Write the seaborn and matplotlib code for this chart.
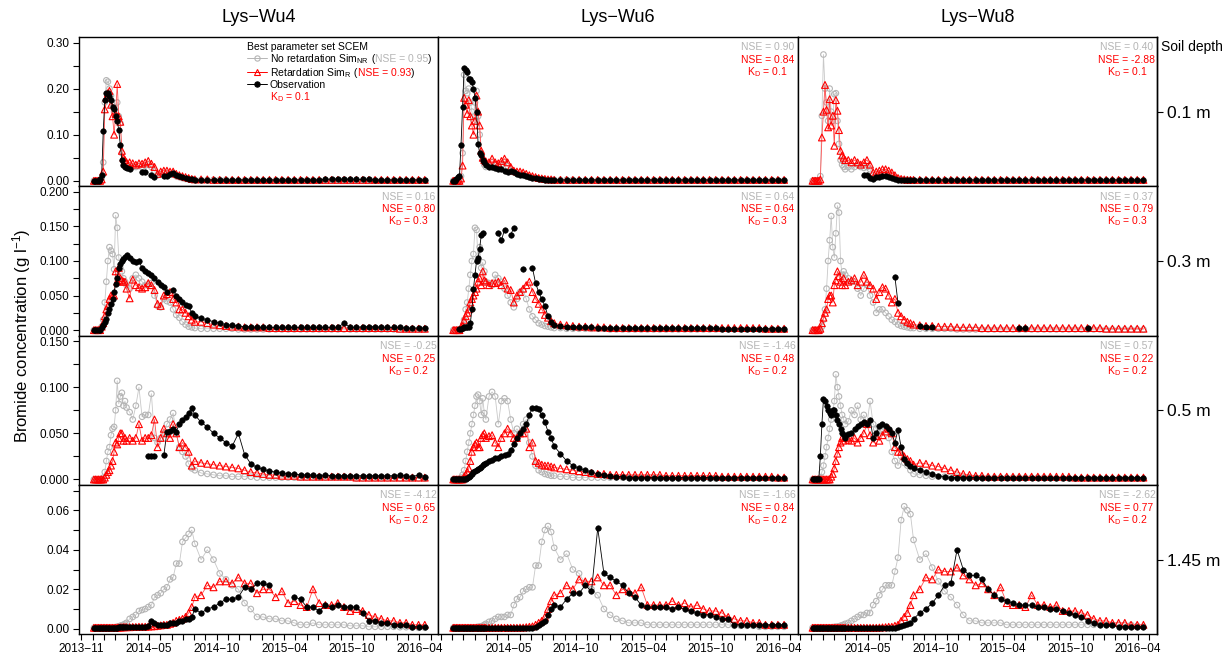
import numpy as np
import pandas as pd
import matplotlib
matplotlib.use("Agg")
import matplotlib.pyplot as plt
import matplotlib.dates as mdates
from matplotlib.ticker import MultipleLocator, FormatStrFormatter
from matplotlib.lines import Line2D
from matplotlib.offsetbox import TextArea, DrawingArea, HPacker, VPacker, AnchoredOffsetbox
import seaborn as sns

sns.set_theme(style="ticks")
plt.rcParams["font.family"] = ["Liberation Sans", "DejaVu Sans"]
plt.rcParams["mathtext.fontset"] = "custom"
plt.rcParams["mathtext.rm"] = "Liberation Sans"
plt.rcParams["mathtext.it"] = "Liberation Sans:italic"
plt.rcParams["mathtext.bf"] = "Liberation Sans:bold"
plt.rcParams["axes.edgecolor"] = "black"
plt.rcParams["axes.linewidth"] = 1.0
plt.rcParams["xtick.color"] = "black"
plt.rcParams["ytick.color"] = "black"
plt.rcParams["text.color"] = "black"

nan = np.nan

# sampling days, counted from 2013-11-01
sample_day = [
    46, 50, 54, 58, 62, 66, 70, 74, 78, 82, 86, 90, 94, 98, 102, 106, 110, 114, 118, 122, 126, 130,
    138, 146, 154, 162, 170, 178, 186, 194, 202, 210, 218, 226, 234, 242, 250, 258, 266, 274, 282, 290, 298, 306,
    322, 338, 354, 370, 386, 402, 418, 434, 450, 466, 482, 498, 514, 530, 546, 562, 578, 594, 610, 626, 642,
    658, 674, 690, 706, 722, 738, 754, 770, 786, 802, 818, 834, 850, 866, 882, 898,
]

# ---------------- 0.1 m ----------------
wu4_010_nr = [
    0, 0, 0, 0, 0, 0.005, 0.04, 0.17, 0.218, 0.215, 0.2, 0.185, 0.16, 0.15, 0.14, 0.17, 0.14, 0.125, 0.06, 0.045, 0.035, 0.03,
    0.032, 0.03, 0.03, 0.032, 0.03, 0.033, 0.035, 0.03, 0.022, 0.012, 0.015, 0.017, 0.017, 0.015, 0.014, 0.01, 0.008, 0.006, 0.004, 0.003, 0.002, 0.002,
    0.002, 0.002, 0.002, 0.002, 0.002, 0.001, 0.001, 0.001, 0.001, 0.001,
    0.001, 0.001, 0.001, 0.001, 0.001, 0.001, 0.001, 0.001, 0.001, 0.001,
    0.001, 0.001, 0.001, 0.001, 0.001, 0.001, 0.001, 0.001, 0.001, 0.001,
    0.001, 0.001, 0.001, 0.001, 0.001, 0.001, 0.001,
]
wu4_010_r = [
    0, 0, 0, 0, 0, 0.003, 0.02, 0.155, 0.18, 0.19, 0.195, 0.165, 0.14, 0.10, 0.145, 0.21, 0.14, 0.128, 0.065, 0.05, 0.045, 0.04,
    0.04, 0.038, 0.035, 0.038, 0.037, 0.04, 0.043, 0.037, 0.03, 0.015, 0.02, 0.022, 0.022, 0.02, 0.02, 0.015, 0.012, 0.01, 0.008, 0.006, 0.004, 0.003,
    0.003, 0.003, 0.002, 0.002, 0.002, 0.002, 0.002, 0.002, 0.002, 0.002,
    0.002, 0.002, 0.002, 0.002, 0.002, 0.002, 0.002, 0.002, 0.002, 0.002,
    0.002, 0.002, 0.002, 0.002, 0.002, 0.002, 0.002, 0.002, 0.002, 0.002,
    0.002, 0.002, 0.002, 0.002, 0.002, 0.002, 0.002,
]
wu4_010_obs = [
    0, 0, 0, 0, 0.004, 0.012, 0.107, 0.175, 0.19, 0.19, 0.185, 0.175, 0.16, 0.155, 0.14, 0.13, 0.11, 0.078, 0.045, 0.035, 0.03, 0.028,
    0.025, nan, nan, nan, 0.02, 0.02, nan, 0.012, 0.008, nan, nan, 0.01, 0.01, 0.015, 0.017, 0.012, 0.01, 0.008, 0.006, 0.004, 0.003, 0.002,
    0.002, 0.002, 0.002, 0.002, 0.002, 0.002, 0.002, 0.002, 0.002, 0.002,
    0.002, 0.002, 0.002, 0.002, 0.002, 0.002, 0.002, 0.002, 0.002, 0.002,
    0.003, 0.004, 0.004, 0.003, 0.004, 0.003, 0.003, 0.003, 0.002, 0.002,
    0.002, 0.002, 0.002, 0.002, 0.002, 0.002, 0.002,
]
wu6_010_nr = [
    0, 0, 0, 0, 0, 0.01, 0.06, 0.23, 0.195, 0.19, 0.2, 0.17, 0.15, 0.13, 0.17, 0.195, 0.14, 0.1, 0.06, 0.045, 0.035, 0.03,
    0.032, 0.04, 0.035, 0.03, 0.035, 0.04, 0.032, 0.025, 0.018, 0.015, 0.015, 0.013, 0.01, 0.008, 0.006, 0.005, 0.004, 0.003, 0.002, 0.002, 0.002, 0.002,
    0.002, 0.002, 0.002, 0.001, 0.001, 0.001, 0.001, 0.001, 0.001, 0.001,
    0.001, 0.001, 0.001, 0.001, 0.001, 0.001, 0.001, 0.001, 0.001, 0.001,
    0.001, 0.001, 0.001, 0.001, 0.001, 0.001, 0.001, 0.001, 0.001, 0.001,
    0.001, 0.001, 0.001, 0.001, 0.001, 0.001, 0.001,
]
wu6_010_r = [
    0, 0, 0, 0, 0, 0.005, 0.033, 0.18, 0.165, 0.145, 0.175, 0.14, 0.12, 0.1, 0.13, 0.185, 0.15, 0.12, 0.065, 0.05, 0.045, 0.042,
    0.04, 0.048, 0.04, 0.038, 0.043, 0.048, 0.04, 0.03, 0.022, 0.02, 0.02, 0.018, 0.015, 0.012, 0.01, 0.008, 0.006, 0.005, 0.004, 0.003, 0.003, 0.002,
    0.002, 0.002, 0.002, 0.002, 0.002, 0.002, 0.002, 0.002, 0.002, 0.002,
    0.002, 0.002, 0.002, 0.002, 0.002, 0.002, 0.002, 0.002, 0.002, 0.002,
    0.002, 0.002, 0.002, 0.002, 0.002, 0.002, 0.002, 0.002, 0.002, 0.002,
    0.002, 0.002, 0.002, 0.002, 0.002, 0.002, 0.002,
]
wu6_010_obs = [
    0, 0, 0.003, 0.008, 0.01, 0.078, 0.16, 0.245, 0.24, 0.235, 0.22, 0.22, 0.215, 0.2, 0.18, 0.15, 0.08, 0.06, 0.055, 0.045, 0.04, 0.035,
    0.03, 0.03, 0.028, 0.025, 0.025, 0.022, 0.02, 0.022, 0.02, 0.015, 0.013, 0.012, 0.01, 0.008, 0.006, 0.005, 0.004, 0.003, 0.002, 0.002, 0.002, 0.002,
    0.002, 0.002, 0.002, 0.002, 0.002, 0.002, 0.002, 0.002, 0.002, 0.002,
    0.002, 0.002, 0.002, 0.002, 0.002, 0.002, 0.002, 0.002, 0.002, 0.002,
    0.002, 0.002, 0.002, 0.002, 0.002, 0.002, 0.002, 0.002, 0.002, 0.002,
    0.002, 0.002, 0.002, 0.002, 0.002, 0.002, 0.002,
]
wu8_010_nr = [
    0, 0, 0, 0, 0, 0.01, 0.141, 0.274, 0.2, 0.17, 0.13, 0.2, 0.15, 0.13, 0.188, 0.19, 0.13, 0.08, 0.045, 0.035, 0.03, 0.025,
    0.03, 0.025, 0.03, 0.035, 0.03, 0.028, 0.03, 0.025, 0.012, 0.015, 0.016, 0.018, 0.018, 0.015, 0.012, 0.008, 0.005, 0.003, 0.002, 0.002, 0.001, 0.001,
    0.001, 0.001, 0.001, 0.001, 0.001, 0.001, 0.001, 0.001, 0.001, 0.001,
    0.001, 0.001, 0.001, 0.001, 0.001, 0.001, 0.001, 0.001, 0.001, 0.001,
    0.001, 0.001, 0.001, 0.001, 0.001, 0.001, 0.001, 0.001, 0.001, 0.001,
    0.001, 0.001, 0.001, 0.001, 0.001, 0.001, 0.001,
]
wu8_010_r = [
    0, 0, 0, 0, 0, 0.003, 0.094, 0.15, 0.208, 0.154, 0.116, 0.177, 0.12, 0.141, 0.076, 0.175, 0.152, 0.11, 0.065, 0.055, 0.05, 0.045,
    0.045, 0.04, 0.045, 0.04, 0.035, 0.04, 0.045, 0.035, 0.018, 0.02, 0.022, 0.025, 0.025, 0.022, 0.018, 0.012, 0.006, 0.004, 0.003, 0.002, 0.002, 0.002,
    0.002, 0.002, 0.002, 0.002, 0.002, 0.002, 0.002, 0.002, 0.002, 0.002,
    0.002, 0.002, 0.002, 0.002, 0.002, 0.002, 0.002, 0.002, 0.002, 0.002,
    0.002, 0.002, 0.002, 0.002, 0.002, 0.002, 0.002, 0.002, 0.002, 0.002,
    0.002, 0.002, 0.002, 0.002, 0.002, 0.002, 0.002,
]
wu8_010_obs = [
    nan, nan, nan, nan, nan, nan, nan, nan, nan, nan, nan, nan, nan, nan, nan, nan, nan, nan, nan, nan, nan, nan,
    nan, nan, nan, nan, nan, 0.012, 0.012, 0.005, 0.004, 0.008, 0.009, 0.01, 0.01, 0.008, 0.005, 0.003, 0.002, 0.002, 0.002, 0.002, 0.002, 0.002,
    0.002, 0.002, 0.002, 0.002, 0.002, 0.002, 0.002, 0.002, 0.002, 0.002,
    0.002, 0.002, 0.002, 0.002, 0.002, 0.002, 0.002, 0.002, 0.002, 0.002,
    0.002, 0.002, 0.002, 0.002, 0.002, 0.002, 0.002, 0.002, 0.002, 0.002,
    0.002, 0.002, 0.002, 0.002, 0.002, 0.002, 0.002,
]

# ---------------- 0.3 m ----------------
wu4_030_nr = [
    0, 0, 0, 0, 0, 0.005, 0.015, 0.04, 0.07, 0.1, 0.12, 0.115, 0.11, 0.088, 0.166, 0.148, 0.105, 0.09, 0.085, 0.075, 0.07, 0.065,
    0.06, 0.075, 0.08, 0.075, 0.07, 0.065, 0.066, 0.068, 0.05, 0.035, 0.033, 0.045, 0.042, 0.04, 0.03, 0.022, 0.018, 0.012, 0.008, 0.005, 0.004, 0.003,
    0.002, 0.002, 0.002, 0.002, 0.002, 0.002, 0.001, 0.001, 0.001, 0.001,
    0.001, 0.001, 0.001, 0.001, 0.001, 0.001, 0.001, 0.001, 0.001, 0.001,
    0.001, 0.001, 0.001, 0.001, 0.001, 0.001, 0.001, 0.001, 0.001, 0.001,
    0.001, 0.001, 0.001, 0.001, 0.001, 0.001, 0.001,
]
wu4_030_r = [
    0, 0, 0, 0, 0, 0.005, 0.01, 0.02, 0.03, 0.035, 0.045, 0.05, 0.05, 0.05, 0.085, 0.07, 0.09, 0.075, 0.072, 0.07, 0.07, 0.06,
    0.046, 0.073, 0.065, 0.062, 0.06, 0.062, 0.068, 0.065, 0.058, 0.038, 0.035, 0.05, 0.052, 0.055, 0.045, 0.04, 0.03, 0.03, 0.025, 0.02, 0.015, 0.012,
    0.012, 0.01, 0.008, 0.007, 0.006, 0.005, 0.005, 0.004, 0.004, 0.004,
    0.004, 0.003, 0.003, 0.003, 0.003, 0.003, 0.003, 0.003, 0.003, 0.003,
    0.003, 0.003, 0.003, 0.003, 0.003, 0.003, 0.003, 0.003, 0.003, 0.003,
    0.003, 0.003, 0.002, 0.002, 0.002, 0.002, 0.002,
]
wu4_030_obs = [
    0, 0, 0, 0, 0, 0.004, 0.007, 0.012, 0.016, 0.025, 0.03, 0.038, 0.045, 0.055, 0.066, 0.075, 0.09, 0.095, 0.1, 0.103, 0.106, 0.108,
    0.105, 0.1, 0.098, 0.1, 0.09, 0.085, 0.083, 0.08, 0.075, 0.07, 0.065, 0.062, 0.055, nan, 0.058, 0.05, 0.045, 0.04, 0.037, 0.035, 0.025, 0.02,
    0.017, 0.015, 0.012, 0.01, 0.008, 0.007, 0.006, 0.005, 0.005, 0.004,
    0.004, 0.004, 0.004, 0.004, 0.004, 0.004, 0.004, 0.004, 0.004, 0.004,
    0.004, 0.004, 0.004, 0.01, 0.004, 0.004, 0.005, 0.005, 0.005, 0.004,
    0.004, 0.004, 0.004, 0.003, 0.003, 0.003, 0.003,
]
wu6_030_nr = [
    0, 0, 0, 0, 0, 0.002, 0.005, 0.015, 0.03, 0.04, 0.06, 0.08, 0.1, 0.11, 0.148, 0.145, 0.1, 0.12, 0.09, 0.098, 0.085, 0.07,
    0.068, 0.065, 0.08, 0.075, 0.07, 0.06, 0.05, 0.04, 0.033, 0.045, 0.055, 0.058, 0.045, 0.03, 0.02, 0.015, 0.01, 0.008, 0.006, 0.005, 0.004, 0.003,
    0.003, 0.002, 0.002, 0.002, 0.002, 0.002, 0.002, 0.002, 0.001, 0.001,
    0.001, 0.001, 0.001, 0.001, 0.001, 0.001, 0.001, 0.001, 0.001, 0.001,
    0.001, 0.001, 0.001, 0.001, 0.001, 0.001, 0.001, 0.001, 0.001, 0.001,
    0.001, 0.001, 0.001, 0.001, 0.001, 0.001, 0.001,
]
wu6_030_r = [
    0, 0, 0, 0, 0, 0.004, 0.006, 0.014, 0.02, 0.025, 0.03, 0.04, 0.045, 0.05, 0.055, 0.06, 0.07, 0.075, 0.065, 0.085, 0.072, 0.07,
    0.065, 0.068, 0.068, 0.07, 0.065, 0.072, 0.06, 0.058, 0.04, 0.05, 0.055, 0.06, 0.065, 0.07, 0.055, 0.045, 0.038, 0.03, 0.022, 0.018, 0.013, 0.01,
    0.008, 0.007, 0.006, 0.005, 0.005, 0.004, 0.004, 0.004, 0.003, 0.003,
    0.003, 0.003, 0.003, 0.003, 0.003, 0.003, 0.003, 0.003, 0.003, 0.003,
    0.003, 0.003, 0.003, 0.003, 0.003, 0.003, 0.003, 0.003, 0.003, 0.003,
    0.003, 0.003, 0.003, 0.002, 0.002, 0.002, 0.002,
]
wu6_030_obs = [
    nan, nan, nan, nan, 0.001, 0.002, 0.003, 0.004, 0.005, 0.005, 0.005, 0.01, 0.03, 0.06, 0.08, 0.1, 0.104, 0.118, 0.137, 0.14, nan, nan,
    nan, nan, nan, 0.14, 0.13, 0.145, nan, 0.138, 0.148, nan, nan, 0.088, nan, nan, 0.09, 0.068, 0.055, 0.045, 0.035, 0.02, 0.012, 0.008,
    0.006, 0.005, 0.005, 0.004, 0.004, 0.004, 0.003, 0.003, 0.003, 0.003,
    0.003, 0.003, 0.003, 0.003, 0.003, 0.003, 0.003, 0.003, 0.003, 0.003,
    0.003, 0.003, 0.003, 0.003, 0.003, 0.003, 0.002, 0.002, 0.002, 0.002,
    0.002, 0.002, 0.002, 0.002, 0.002, 0.002, 0.002,
]
wu8_030_nr = [
    0, 0, 0, 0, 0, 0, 0.005, 0.015, 0.03, 0.06, 0.1, 0.13, 0.165, 0.12, 0.105, 0.14, 0.18, 0.17, 0.1, 0.08, 0.085, 0.08,
    0.075, 0.07, 0.07, 0.06, 0.05, 0.06, 0.065, 0.05, 0.04, 0.025, 0.03, 0.03, 0.025, 0.02, 0.015, 0.012, 0.008, 0.006, 0.005, 0.004, 0.003, 0.003,
    0.002, 0.002, 0.002, 0.002, 0.002, 0.002, 0.001, 0.001, 0.001, 0.001,
    0.001, 0.001, 0.001, 0.001, 0.001, 0.001, 0.001, 0.001, 0.001, 0.001,
    0.001, 0.001, 0.001, 0.001, 0.001, 0.001, 0.001, 0.001, 0.001, 0.001,
    0.001, 0.001, 0.001, 0.001, 0.001, 0.001, 0.001,
]
wu8_030_r = [
    0, 0, 0, 0, 0, 0.002, 0.01, 0.018, 0.025, 0.03, 0.045, 0.05, 0.05, 0.04, 0.065, 0.072, 0.085, 0.078, 0.07, 0.065, 0.075, 0.065,
    0.07, 0.072, 0.075, 0.065, 0.07, 0.08, 0.07, 0.065, 0.06, 0.045, 0.055, 0.062, 0.06, 0.05, 0.04, 0.045, 0.025, 0.02, 0.015, 0.012, 0.01, 0.008,
    0.007, 0.006, 0.006, 0.005, 0.005, 0.005, 0.004, 0.004, 0.004, 0.004,
    0.003, 0.003, 0.003, 0.003, 0.003, 0.003, 0.003, 0.003, 0.003, 0.003,
    0.003, 0.003, 0.003, 0.003, 0.003, 0.003, 0.003, 0.003, 0.003, 0.003,
    0.002, 0.002, 0.002, 0.002, 0.002, 0.002, 0.002,
]
wu8_030_obs = [
    nan, nan, nan, nan, nan, nan, nan, nan, nan, nan, nan, nan, nan, nan, nan, nan, nan, nan, nan, nan, nan, nan,
    nan, nan, nan, nan, nan, nan, nan, nan, nan, nan, nan, nan, nan, nan, nan, 0.077, 0.039, nan, nan, nan, nan, nan,
    0.006, 0.005, 0.004, nan, nan, nan, nan, nan, nan, nan,
    nan, nan, nan, nan, nan, nan, 0.003, 0.003, nan, nan,
    nan, nan, nan, nan, nan, nan, nan, 0.003, nan, nan,
    nan, nan, nan, nan, nan, nan, nan,
]

# ---------------- 0.5 m ----------------
wu4_050_nr = [
    0, 0, 0, 0, 0, 0, 0.002, 0.008, 0.02, 0.03, 0.035, 0.048, 0.055, 0.057, 0.075, 0.107, 0.082, 0.09, 0.094, 0.08, 0.085, 0.078,
    0.073, 0.065, 0.08, 0.1, 0.068, 0.07, 0.07, 0.093, 0.045, 0.04, 0.045, 0.05, 0.06, 0.065, 0.072, 0.05, 0.035, 0.03, 0.025, 0.017, 0.012, 0.01,
    0.007, 0.006, 0.005, 0.004, 0.004, 0.003, 0.003, 0.003, 0.003, 0.002,
    0.002, 0.002, 0.002, 0.002, 0.002, 0.002, 0.002, 0.002, 0.002, 0.002,
    0.002, 0.002, 0.002, 0.002, 0.002, 0.001, 0.001, 0.001, 0.001, 0.001,
    0.001, 0.001, 0.001, 0.001, 0.001, 0.001, 0.001,
]
wu4_050_r = [
    0, 0, 0, 0, 0, 0, 0, 0.002, 0.005, 0.008, 0.01, 0.015, 0.02, 0.03, 0.04, 0.038, 0.045, 0.05, 0.05, 0.042, 0.045, 0.042,
    0.045, 0.042, 0.045, 0.06, 0.042, 0.045, 0.045, 0.048, 0.065, 0.035, 0.045, 0.055, 0.05, 0.045, 0.06, 0.05, 0.035, 0.04, 0.035, 0.03, 0.015, 0.02,
    0.018, 0.017, 0.016, 0.015, 0.014, 0.013, 0.012, 0.01, 0.008, 0.007,
    0.006, 0.005, 0.005, 0.004, 0.004, 0.004, 0.003, 0.003, 0.003, 0.003,
    0.003, 0.003, 0.003, 0.003, 0.003, 0.002, 0.002, 0.002, 0.002, 0.002,
    0.002, 0.002, 0.002, 0.002, 0.002, 0.002, 0.002,
]
wu4_050_obs = [
    nan, nan, nan, nan, nan, nan, nan, nan, nan, nan, nan, nan, nan, nan, nan, nan, nan, nan, nan, nan, nan, nan,
    nan, nan, nan, nan, nan, nan, 0.025, 0.025, 0.025, nan, nan, 0.026, 0.052, 0.053, 0.055, 0.052, 0.06, 0.065, 0.068, 0.072, 0.078, 0.07,
    0.062, 0.057, 0.05, 0.045, 0.04, 0.036, 0.05, 0.027, 0.017, 0.013,
    0.011, 0.009, 0.008, 0.007, 0.006, 0.006, 0.005, 0.005, 0.005, 0.004,
    0.005, 0.004, 0.004, 0.004, 0.004, 0.004, 0.004, 0.004, 0.004, 0.004,
    0.004, 0.004, 0.005, 0.004, 0.003, 0.005, 0.003,
]
wu6_050_nr = [
    0, 0, 0, 0, 0, 0.002, 0.005, 0.01, 0.02, 0.03, 0.04, 0.05, 0.06, 0.07, 0.08, 0.09, 0.092, 0.085, 0.07, 0.088, 0.072, 0.065,
    0.09, 0.095, 0.09, 0.06, 0.085, 0.088, 0.085, 0.065, 0.05, 0.055, 0.05, 0.06, 0.065, 0.04, 0.025, 0.015, 0.01, 0.008, 0.006, 0.005, 0.004, 0.004,
    0.003, 0.003, 0.002, 0.002, 0.002, 0.002, 0.002, 0.002, 0.002, 0.002,
    0.002, 0.002, 0.002, 0.002, 0.002, 0.002, 0.002, 0.001, 0.001, 0.001,
    0.001, 0.001, 0.001, 0.001, 0.001, 0.001, 0.001, 0.001, 0.001, 0.001,
    0.001, 0.001, 0.001, 0.001, 0.001, 0.001, 0.001,
]
wu6_050_r = [
    0, 0, 0, 0, 0, 0, 0, 0.003, 0.005, 0.008, 0.012, 0.02, 0.03, 0.035, 0.038, 0.04, 0.035, 0.035, 0.045, 0.048, 0.05, 0.045,
    0.047, 0.048, 0.04, 0.035, 0.045, 0.05, 0.055, 0.05, 0.045, 0.045, 0.05, 0.05, 0.055, 0.035, 0.04, 0.02, 0.018, 0.016, 0.015, 0.015, 0.014, 0.013,
    0.012, 0.011, 0.01, 0.009, 0.008, 0.007, 0.006, 0.006, 0.005, 0.005,
    0.005, 0.005, 0.005, 0.005, 0.005, 0.005, 0.005, 0.004, 0.004, 0.004,
    0.004, 0.004, 0.004, 0.004, 0.004, 0.004, 0.003, 0.003, 0.003, 0.003,
    0.003, 0.003, 0.003, 0.003, 0.003, 0.002, 0.002,
]
wu6_050_obs = [
    0, 0, 0, 0, 0, 0, 0, 0.001, 0.001, 0.002, 0.003, 0.004, 0.006, 0.008, 0.009, 0.01, 0.011, 0.012, 0.014, 0.016, 0.017, 0.018,
    0.02, 0.021, 0.023, 0.023, 0.025, 0.026, 0.028, 0.032, 0.038, 0.045, 0.05, 0.055, 0.06, 0.07, 0.078, 0.077, 0.076, 0.07, 0.062, 0.052, 0.045, 0.036,
    0.028, 0.02, 0.015, 0.012, 0.01, 0.008, 0.006, 0.005, 0.004, 0.003,
    0.003, 0.002, 0.002, 0.002, 0.002, 0.002, 0.002, 0.002, 0.002, 0.002,
    0.002, 0.002, 0.002, 0.002, 0.002, 0.002, 0.002, 0.002, 0.002, 0.002,
    0.002, 0.002, 0.002, 0.002, 0.002, 0.002, 0.002,
]
wu8_050_nr = [
    0, 0, 0, 0, 0, 0.002, 0.008, 0.015, 0.025, 0.035, 0.045, 0.055, 0.065, 0.072, 0.085, 0.114, 0.1, 0.09, 0.08, 0.07, 0.065, 0.06,
    0.063, 0.075, 0.07, 0.08, 0.065, 0.07, 0.06, 0.085, 0.06, 0.055, 0.05, 0.052, 0.055, 0.045, 0.03, 0.02, 0.015, 0.025, 0.018, 0.015, 0.01, 0.006,
    0.005, 0.004, 0.003, 0.003, 0.003, 0.003, 0.003, 0.002, 0.002, 0.002,
    0.002, 0.002, 0.002, 0.002, 0.002, 0.002, 0.002, 0.002, 0.002, 0.002,
    0.002, 0.002, 0.001, 0.001, 0.001, 0.001, 0.001, 0.001, 0.001, 0.001,
    0.001, 0.001, 0.001, 0.001, 0.001, 0.001, 0.001,
]
wu8_050_r = [
    0, 0, 0, 0, 0, 0, 0, 0, 0, 0, 0, 0, 0.003, 0.006, 0.012, 0.02, 0.028, 0.035, 0.04, 0.045, 0.042, 0.045,
    0.043, 0.042, 0.045, 0.04, 0.045, 0.05, 0.06, 0.048, 0.04, 0.047, 0.042, 0.048, 0.052, 0.055, 0.05, 0.035, 0.03, 0.03, 0.025, 0.022, 0.02, 0.016,
    0.018, 0.017, 0.015, 0.014, 0.012, 0.01, 0.008, 0.006, 0.005, 0.004,
    0.004, 0.003, 0.003, 0.003, 0.003, 0.003, 0.003, 0.003, 0.003, 0.003,
    0.003, 0.003, 0.003, 0.003, 0.003, 0.002, 0.002, 0.002, 0.002, 0.002,
    0.002, 0.002, 0.002, 0.002, 0.002, 0.002, 0.002,
]
wu8_050_obs = [
    0, 0, 0, 0, 0, 0.025, 0.06, 0.087, 0.085, 0.08, 0.075, 0.072, 0.07, 0.075, 0.075, 0.07, 0.065, 0.06, 0.055, 0.05, 0.048, 0.045,
    0.049, 0.05, 0.055, 0.058, 0.06, 0.062, 0.06, 0.065, 0.045, 0.05, 0.058, 0.06, 0.058, 0.055, 0.05, 0.04, 0.054, 0.035, 0.022, 0.018, 0.015, 0.012,
    0.01, 0.008, 0.006, 0.004, 0.003, 0.002, 0.002, 0.002, 0.002, 0.002,
    0.002, 0.002, 0.002, 0.002, 0.002, 0.002, 0.002, 0.002, 0.002, 0.002,
    0.002, 0.002, 0.002, 0.002, 0.002, 0.002, 0.002, 0.002, 0.002, 0.002,
    0.002, 0.002, 0.002, 0.002, 0.002, 0.002, 0.002,
]

# ---------------- 1.45 m ----------------
wu4_145_nr = [
    0.0005, 0.0005, 0.0005, 0.0005, 0.0005, 0.0005, 0.0005, 0.0005, 0.0005, 0.0005, 0.0005, 0.0005, 0.0005, 0.0005,
    0.0008, 0.001, 0.0012, 0.0015, 0.0018, 0.002, 0.0025, 0.003,
    0.005, 0.006, 0.007, 0.009, 0.0095, 0.01, 0.011, 0.012, 0.016, 0.017, 0.018, 0.02, 0.021, 0.025, 0.026, 0.033, 0.033, 0.044, 0.046, 0.048, 0.05, 0.043,
    0.035, 0.04, 0.035, 0.028, 0.025, 0.022, 0.02, 0.013, 0.01, 0.006,
    0.006, 0.005, 0.005, 0.004, 0.004, 0.003, 0.002, 0.002, 0.003, 0.002,
    0.002, 0.002, 0.002, 0.002, 0.0015, 0.0015, 0.0015, 0.001, 0.001, 0.001,
    0.001, 0.001, 0.0008, 0.0008, 0.0006, 0.0005, 0.0005,
]
wu4_145_r = [
    0.0005, 0.0005, 0.0005, 0.0005, 0.0005, 0.0005, 0.0005, 0.0005, 0.0005, 0.0005, 0.0005, 0.0005, 0.0005, 0.0005, 0.0005,
    0.0006, 0.0006, 0.0007, 0.0007, 0.0008, 0.0008, 0.0008,
    0.0008, 0.0009, 0.0009, 0.001, 0.001, 0.001, 0.0011, 0.0012, 0.0013, 0.0015, 0.0017, 0.002, 0.002, 0.0025, 0.003, 0.004, 0.0045, 0.005, 0.006, 0.008, 0.011, 0.016,
    0.017, 0.022, 0.021, 0.024, 0.024, 0.023, 0.026, 0.023, 0.023, 0.018,
    0.02, 0.02, 0.016, 0.019, 0.013, 0.014, 0.012, 0.011, 0.02, 0.013,
    0.012, 0.012, 0.013, 0.011, 0.009, 0.01, 0.009, 0.007, 0.006, 0.005,
    0.004, 0.004, 0.003, 0.003, 0.002, 0.002, 0.002,
]
wu4_145_obs = [
    0.0003, 0.0003, 0.0003, 0.0003, 0.0003, 0.0003, 0.0003, 0.0003, 0.0003, 0.0003, 0.0003, 0.0003, 0.0003, 0.0003,
    0.0005, 0.0005, 0.001, 0.001, 0.001, 0.001, 0.001, 0.001,
    0.001, 0.001, 0.001, 0.001, 0.001, 0.001, 0.0015, 0.004, 0.003, 0.002, 0.002, 0.002, 0.002, 0.003, 0.003, 0.003, 0.004, 0.004, 0.005, 0.005, 0.006, 0.01,
    0.008, 0.01, 0.011, 0.013, 0.015, 0.015, 0.016, 0.021, 0.02, 0.023,
    0.023, 0.022, nan, nan, nan, 0.016, 0.015, 0.011, 0.011, 0.009,
    0.012, 0.011, 0.012, 0.011, 0.011, 0.011, 0.008, 0.004, 0.004, 0.003,
    0.003, 0.002, 0.002, 0.002, 0.001, 0.001, 0.001,
]
wu6_145_nr = [
    0.0005, 0.0005, 0.0005, 0.0005, 0.0005, 0.0005, 0.0005, 0.0005, 0.0005, 0.0005, 0.0005, 0.0005, 0.0005, 0.0005,
    0.0007, 0.0008, 0.001, 0.001, 0.0012, 0.0015, 0.002, 0.0025,
    0.0035, 0.004, 0.005, 0.006, 0.006, 0.006, 0.007, 0.007, 0.012, 0.015, 0.016, 0.019, 0.02, 0.021, 0.021, 0.032, 0.032, 0.044, 0.05, 0.052, 0.049, 0.041,
    0.035, 0.038, 0.03, 0.028, 0.023, 0.02, 0.017, 0.01, 0.007, 0.005,
    0.004, 0.003, 0.003, 0.003, 0.002, 0.002, 0.002, 0.002, 0.002, 0.002,
    0.002, 0.002, 0.002, 0.002, 0.002, 0.002, 0.002, 0.002, 0.0015, 0.0015,
    0.0015, 0.0015, 0.001, 0.001, 0.001, 0.001, 0.001,
]
wu6_145_r = [
    0.0005, 0.0005, 0.0005, 0.0005, 0.0005, 0.0005, 0.0005, 0.0005, 0.0005, 0.0005, 0.0005,
    0.0005, 0.0005, 0.0005, 0.0005, 0.0005, 0.0005, 0.0005, 0.0005, 0.0005, 0.0005, 0.0005,
    0.0005, 0.0005, 0.0005, 0.0005, 0.0005, 0.0005, 0.0005, 0.0005, 0.0005, 0.0005,
    0.0006, 0.0006, 0.0008, 0.001, 0.0012, 0.002, 0.003, 0.004, 0.006, 0.01, 0.014, 0.017,
    0.018, 0.022, 0.02, 0.025, 0.024, 0.024, 0.026, 0.022, 0.022, 0.017,
    0.02, 0.019, 0.018, 0.021, 0.012, 0.012, 0.012, 0.012, 0.014, 0.012,
    0.013, 0.011, 0.012, 0.01, 0.009, 0.009, 0.008, 0.006, 0.005, 0.004,
    0.004, 0.003, 0.003, 0.002, 0.002, 0.002, 0.002,
]
wu6_145_obs = [
    0.0003, 0.0003, 0.0003, 0.0003, 0.0003, 0.0003, 0.0003, 0.0003, 0.0003, 0.0003, 0.0003,
    0.0003, 0.0003, 0.0003, 0.0003, 0.0003, 0.0003, 0.0003, 0.0003, 0.0003, 0.0003, 0.0003,
    0.0003, 0.0003, 0.0003, 0.0003, 0.0003, 0.0003, 0.0003, 0.0003, 0.0003, 0.0003, 0.0003, 0.0003, 0.0003, 0.0003,
    0.0005, 0.001, 0.002, 0.003, 0.004, 0.007, 0.01, 0.012,
    0.011, 0.015, 0.018, 0.018, 0.022, 0.019, 0.051, 0.028, 0.026, 0.024,
    0.022, 0.018, 0.016, 0.012, 0.011, 0.011, 0.011, 0.011, 0.01, 0.011,
    0.01, 0.009, 0.008, 0.007, 0.007, 0.006, 0.005, 0.005, 0.002, 0.002,
    0.002, 0.002, 0.002, 0.002, 0.002, 0.002, 0.002,
]
wu8_145_nr = [
    0.0005, 0.0005, 0.0005, 0.0005, 0.0005, 0.0005, 0.0005, 0.0005, 0.0005, 0.0005, 0.0005,
    0.0006, 0.0007, 0.0008, 0.0009, 0.001, 0.001, 0.0012, 0.0015, 0.0018, 0.002, 0.0025,
    0.003, 0.004, 0.005, 0.006, 0.007, 0.007, 0.008, 0.008, 0.012, 0.014, 0.017, 0.02, 0.022, 0.022, 0.022, 0.029, 0.036, 0.055, 0.062, 0.06, 0.058, 0.045,
    0.035, 0.038, 0.031, 0.024, 0.019, 0.016, 0.012, 0.007, 0.004, 0.004,
    0.003, 0.003, 0.003, 0.003, 0.002, 0.002, 0.002, 0.002, 0.002, 0.002,
    0.002, 0.002, 0.002, 0.002, 0.002, 0.002, 0.002, 0.002, 0.002, 0.002,
    0.002, 0.002, 0.002, 0.002, 0.002, 0.0015, 0.001,
]
wu8_145_r = [
    0.0005, 0.0005, 0.0005, 0.0005, 0.0005, 0.0005, 0.0005, 0.0005, 0.0005, 0.0005, 0.0005,
    0.0005, 0.0005, 0.0005, 0.0005, 0.0005, 0.0005, 0.0005, 0.0005, 0.0005, 0.0005, 0.0005,
    0.0005, 0.0005, 0.0005, 0.0005, 0.0005, 0.0005, 0.0005, 0.0005, 0.0005, 0.0005,
    0.0006, 0.0007, 0.0008, 0.001, 0.001, 0.0015, 0.002, 0.004, 0.006, 0.008, 0.012, 0.017,
    0.02, 0.026, 0.025, 0.03, 0.029, 0.029, 0.031, 0.027, 0.025, 0.022,
    0.023, 0.02, 0.017, 0.021, 0.013, 0.012, 0.012, 0.011, 0.017, 0.012,
    0.012, 0.011, 0.012, 0.009, 0.009, 0.009, 0.008, 0.007, 0.005, 0.004,
    0.004, 0.003, 0.003, 0.003, 0.002, 0.002, 0.002,
]
wu8_145_obs = [
    0.0003, 0.0003, 0.0003, 0.0003, 0.0003, 0.0003, 0.0003, 0.0003, 0.0003, 0.0003, 0.0003,
    0.0003, 0.0003, 0.0003, 0.0003, 0.0003, 0.0003, 0.0003, 0.0003, 0.0003, 0.0003, 0.0003,
    0.0003, 0.0003, 0.0003, 0.0003, 0.0003, 0.0003, 0.0003, 0.0003, 0.0003, 0.0003, 0.0003, 0.0003, 0.0003, 0.0003, 0.0003, 0.0003,
    0.001, 0.0015, 0.002, 0.0025, 0.003, 0.005,
    0.008, 0.01, 0.013, 0.017, 0.022, 0.023, 0.04, 0.03, 0.027, 0.027,
    0.025, 0.02, 0.017, 0.015, 0.014, 0.013, 0.012, 0.012, 0.012, 0.011,
    0.011, 0.01, 0.01, 0.009, 0.008, 0.007, 0.006, 0.004, 0.003, 0.002,
    0.002, 0.002, 0.001, 0.001, 0.001, 0.001, 0.001,
]

lysimeters = ["Lys\u2212Wu4", "Lys\u2212Wu6", "Lys\u2212Wu8"]
depths = ["0.1 m", "0.3 m", "0.5 m", "1.45 m"]
nse_nr = [[0.95, 0.90, 0.40], [0.16, 0.64, 0.37], [-0.25, -1.46, 0.57], [-4.12, -1.66, -2.62]]
nse_r = [[0.93, 0.84, -2.88], [0.80, 0.64, 0.79], [0.25, 0.48, 0.22], [0.65, 0.84, 0.77]]
kd = [0.1, 0.3, 0.2, 0.2]
y_top = [0.30, 0.20, 0.15, 0.07]
y_step = [0.10, 0.05, 0.05, 0.02]
y_fmt = ["%.2f", "%.3f", "%.3f", "%.2f"]

sim_nr = [[wu4_010_nr, wu6_010_nr, wu8_010_nr], [wu4_030_nr, wu6_030_nr, wu8_030_nr],
          [wu4_050_nr, wu6_050_nr, wu8_050_nr], [wu4_145_nr, wu6_145_nr, wu8_145_nr]]
sim_r = [[wu4_010_r, wu6_010_r, wu8_010_r], [wu4_030_r, wu6_030_r, wu8_030_r],
         [wu4_050_r, wu6_050_r, wu8_050_r], [wu4_145_r, wu6_145_r, wu8_145_r]]
obs = [[wu4_010_obs, wu6_010_obs, wu8_010_obs], [wu4_030_obs, wu6_030_obs, wu8_030_obs],
       [wu4_050_obs, wu6_050_obs, wu8_050_obs], [wu4_145_obs, wu6_145_obs, wu8_145_obs]]

GREY = "#b5b5b5"
GREY_LINE = "#c8c8c8"
RED = "#ff0000"
RED_LINE = "#ff5050"
BLACK = "#000000"

origin = pd.Timestamp("2013-11-01")
dates = origin + pd.to_timedelta(sample_day, unit="D")
x_lo = mdates.date2num(origin + pd.Timedelta(days=7.6))
x_hi = mdates.date2num(origin + pd.Timedelta(days=932.9))
major_dates = [origin + pd.Timedelta(days=14 + 174 * k) for k in range(6)]
minor_dates = [origin + pd.Timedelta(days=14 + 29 * k) for k in range(32)]
major_num = mdates.date2num(major_dates)
minor_num = mdates.date2num(minor_dates)
major_lab = [d.strftime("%Y-%m").replace("-", "\u2212") for d in major_dates]


def draw_series(ax, values, color, line_color, marker, filled, size, lw, z):
    df = pd.DataFrame({"date": dates, "conc": np.asarray(values, dtype=float)})
    df["run"] = df["conc"].isna().cumsum()
    df = df.dropna(subset=["conc"])
    sns.lineplot(data=df, x="date", y="conc", units="run", estimator=None,
                 color=line_color, linewidth=lw, ax=ax, legend=False, zorder=z)
    if filled:
        sns.scatterplot(data=df, x="date", y="conc", marker=marker, s=size, color=color,
                        edgecolor=color, linewidth=0.4, ax=ax, legend=False, zorder=z + 0.05)
    else:
        sns.scatterplot(data=df, x="date", y="conc", marker=marker, s=size, color=color,
                        facecolor="none", edgecolor=color, linewidth=0.8, ax=ax,
                        legend=False, zorder=z + 0.05)


W, H = 1227, 657
fig, axes = plt.subplots(4, 3, figsize=(W / 100, H / 100), dpi=100)
fig.subplots_adjust(left=79 / W, right=1157 / W, top=1 - 37 / H, bottom=1 - 634.3 / H,
                    wspace=0, hspace=0)
panel_h = (634.3 - 37) / 4

for r in range(4):
    for c in range(3):
        ax = axes[r, c]
        ax.set_facecolor("white")
        draw_series(ax, sim_nr[r][c], GREY, GREY_LINE, "o", False, 16, 0.6, 2.0)
        draw_series(ax, sim_r[r][c], RED, RED_LINE, "^", False, 24, 0.6, 2.2)
        draw_series(ax, obs[r][c], BLACK, BLACK, "o", True, 16, 0.6, 2.4)
        ax.set_xlabel("")
        ax.set_ylabel("")
        ax.set_xlim(x_lo, x_hi)
        ax.set_ylim(-0.04 * y_top[r], 1.04 * y_top[r])
        for s in ax.spines.values():
            s.set_visible(True)
            s.set_color("black")
            s.set_linewidth(1.0)

        # y axis: labelled on the left column only
        if c == 0:
            ax.yaxis.set_major_locator(MultipleLocator(y_step[r]))
            ax.yaxis.set_minor_locator(MultipleLocator(y_step[r] / 2))
            ax.yaxis.set_major_formatter(FormatStrFormatter(y_fmt[r]))
            ax.tick_params(axis="y", which="both", length=4, width=0.8,
                           labelsize=8.5, pad=3, direction="out", left=True)
        else:
            ax.tick_params(axis="y", which="both", left=False, labelleft=False)

        # x axis: date ticks on the bottom row only
        if r == 3:
            ax.set_xticks(major_num)
            labs = list(major_lab)
            if c > 0:
                labs[0] = ""
            ax.set_xticklabels(labs)
            ax.set_xticks(minor_num, minor=True)
            ax.set_xlim(x_lo, x_hi)
            ax.tick_params(axis="x", which="both", length=4, width=0.8,
                           labelsize=8.5, pad=2, direction="out", bottom=True)
        else:
            ax.set_xticks([])
            ax.set_xticks([], minor=True)
            ax.tick_params(axis="x", which="both", bottom=False, labelbottom=False)

        # soil depth on the right column
        if c == 2:
            ylo, yhi = ax.get_ylim()
            sec = ax.secondary_yaxis("right")
            sec.set_yticks([0.5 * (ylo + yhi)])
            sec.set_yticklabels([depths[r]])
            sec.tick_params(length=4, width=0.8, labelsize=12.5, pad=3)

        if r == 0:
            ax.text(0.5, 1 + 19 / panel_h, lysimeters[c], transform=ax.transAxes,
                    ha="center", va="center", fontsize=13)

        # goodness-of-fit annotations
        if not (r == 0 and c == 0):
            xc = 1 - 30 / 359
            ax.text(xc, 1 - 10.5 / panel_h, f"NSE = {nse_nr[r][c]:.2f}", color=GREY,
                    transform=ax.transAxes, ha="center", va="center", fontsize=7.5)
            ax.text(xc, 1 - 23 / panel_h, f"NSE = {nse_r[r][c]:.2f}", color=RED,
                    transform=ax.transAxes, ha="center", va="center", fontsize=7.5)
            ax.text(xc, 1 - 35 / panel_h, f"K$_\\mathrm{{D}}$ = {kd[r]}", color=RED,
                    transform=ax.transAxes, ha="center", va="center", fontsize=7.5)

# legend inside the first panel
FS = 7.5


def key(color, marker, filled):
    da = DrawingArea(16.5, 6, 0, 0)
    da.add_artist(Line2D([0, 14.4], [2.6, 2.6], color=color, lw=0.7))
    da.add_artist(Line2D([7.2], [2.6], color=color, marker=marker, ms=3.8, lw=0,
                         mfc=color if filled else "none", mec=color, mew=0.8))
    return da


def ta(s, color="black"):
    return TextArea(s, textprops=dict(color=color, fontsize=FS))


rows = [
    ta("Best parameter set SCEM"),
    HPacker(children=[key(GREY, "o", False), ta("No retardation Sim$_\\mathrm{NR}$"), ta(" ("),
                      ta(f"NSE = {nse_nr[0][0]:.2f}", GREY), ta(")")], align="baseline", pad=0, sep=0),
    HPacker(children=[key(RED, "^", False), ta("Retardation Sim$_\\mathrm{R}$"), ta(" ("),
                      ta(f"NSE = {nse_r[0][0]:.2f}", RED), ta(")")], align="baseline", pad=0, sep=0),
    HPacker(children=[key(BLACK, "o", True), ta("Observation")], align="baseline", pad=0, sep=0),
    HPacker(children=[DrawingArea(16.5, 6, 0, 0), ta(f"K$_\\mathrm{{D}}$ = {kd[0]}", RED)],
            align="baseline", pad=0, sep=0),
]
legend_box = VPacker(children=rows, align="left", pad=0, sep=0)
anchored = AnchoredOffsetbox(loc="upper left", child=legend_box, pad=0, borderpad=0, frameon=False,
                             bbox_to_anchor=(247 / W, 1 - 42 / H), bbox_transform=fig.transFigure)
axes[0, 0].add_artist(anchored)

fig.text(22 / W, 1 - 335.6 / H, "Bromide concentration (g l$^{-1}$)", rotation=90,
         ha="center", va="center", fontsize=12)
fig.text(1192 / W, 1 - 47 / H, "Soil depth", ha="center", va="center", fontsize=10)

fig.savefig("out.png", dpi=100)
